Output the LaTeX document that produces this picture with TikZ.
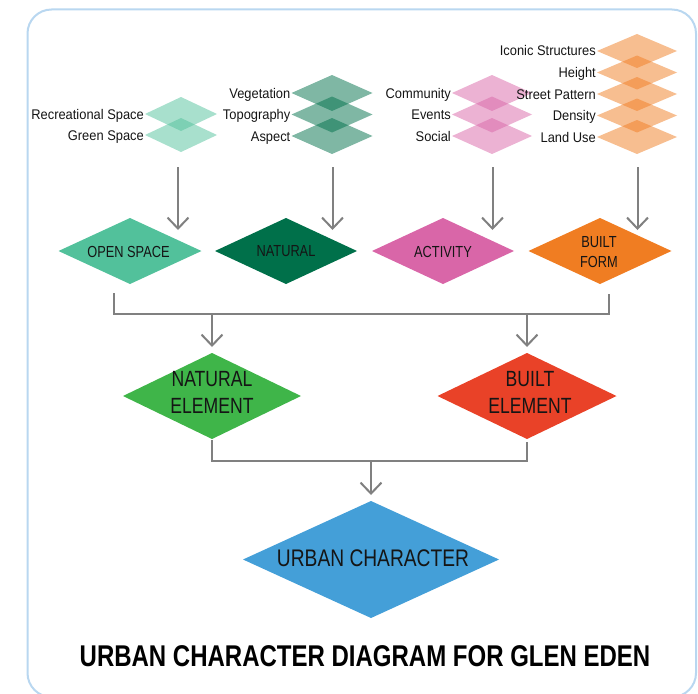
\documentclass[tikz,border=0pt]{standalone}
\usepackage{fontspec}
\setmainfont[FakeStretch=0.8]{Liberation Sans}
\newfontfamily\lblfont[FakeStretch=0.92]{Liberation Sans}
\usetikzlibrary{shapes.geometric,arrows.meta,calc}
\definecolor{osC}{HTML}{52C19B}
\definecolor{naC}{HTML}{00704A}
\definecolor{acC}{HTML}{D966A8}
\definecolor{bfC}{HTML}{F07D22}
\definecolor{neC}{HTML}{3FB549}
\definecolor{beC}{HTML}{E94228}
\definecolor{ucC}{HTML}{449FD8}
\definecolor{frameC}{HTML}{B9D7F0}
\definecolor{connC}{HTML}{808080}
\definecolor{txtC}{HTML}{151515}
\tikzset{
  sdia/.style={diamond, draw=none, inner sep=0pt, outer sep=0pt, fill opacity=0.5, minimum width=80pt, minimum height=36pt},
  bdia/.style={diamond, draw=none, inner sep=0pt, outer sep=0pt},
  lbl/.style={font=\lblfont\fontsize{14}{16}\selectfont, text=txtC, inner sep=0pt, anchor=base east},
  mtxt/.style={font=\fontsize{16}{20}\selectfont, text=txtC, inner sep=0pt, align=center},
  etxt/.style={font=\fontsize{22}{27}\selectfont, text=txtC, inner sep=0pt, align=center},
  conn/.style={draw=connC, line width=2pt},
  arr/.style={draw=connC, line width=2pt, -{Straight Barb[length=11pt,width=21pt]}},
}
\begin{document}
\begin{tikzpicture}[x=1pt,y=-1pt]
\useasboundingbox (0,0) rectangle (698,693);
\begin{scope}
\clip (0,0) rectangle (698,693);
\draw[frameC, line width=2pt, rounded corners=24pt] (27.5,9.5) rectangle (696,697);
\end{scope}

% open space group
\node[sdia, fill=osC, minimum width=72pt, minimum height=34pt] (os1) at (181,114) {};
\node[sdia, fill=osC, minimum width=72pt, minimum height=34pt] (os2) at (181,135) {};
\node[lbl] (t-os1) at ($(os1.west)+(-1,5)$) {Recreational Space};
\node[lbl] (t-os2) at ($(os2.west)+(-1,5)$) {Green Space};

% natural group
\node[sdia, fill=naC, minimum width=81pt] (na1) at (332,93) {};
\node[sdia, fill=naC, minimum width=81pt] (na2) at (332,114.5) {};
\node[sdia, fill=naC, minimum width=81pt] (na3) at (332,136) {};
\node[lbl] (t-na1) at ($(na1.west)+(-1,5)$) {Vegetation};
\node[lbl] (t-na2) at ($(na2.west)+(-1,5)$) {Topography};
\node[lbl] (t-na3) at ($(na3.west)+(-1,5)$) {Aspect};

% activity group
\node[sdia, fill=acC] (ac1) at (492,93) {};
\node[sdia, fill=acC] (ac2) at (492,114.5) {};
\node[sdia, fill=acC] (ac3) at (492,136) {};
\node[lbl] (t-ac1) at ($(ac1.west)+(-1,5)$) {Community};
\node[lbl] (t-ac2) at ($(ac2.west)+(-1,5)$) {Events};
\node[lbl] (t-ac3) at ($(ac3.west)+(-1,5)$) {Social};

% built form group
\node[sdia, fill=bfC, minimum height=34pt] (bf1) at (637,51) {};
\node[sdia, fill=bfC, minimum height=34pt] (bf2) at (637,72.5) {};
\node[sdia, fill=bfC, minimum height=34pt] (bf3) at (637,94) {};
\node[sdia, fill=bfC, minimum height=34pt] (bf4) at (637,115.5) {};
\node[sdia, fill=bfC, minimum height=34pt] (bf5) at (637,137) {};
\node[lbl] (t-bf1) at ($(bf1.west)+(-1,5)$) {Iconic Structures};
\node[lbl] (t-bf2) at ($(bf2.west)+(-1,5)$) {Height};
\node[lbl] (t-bf3) at ($(bf3.west)+(-1,5)$) {Street Pattern};
\node[lbl] (t-bf4) at ($(bf4.west)+(-1,5)$) {Density};
\node[lbl] (t-bf5) at ($(bf5.west)+(-1,5)$) {Land Use};

% main diamonds
\node[bdia, fill=osC, minimum width=143pt, minimum height=66pt] (osm) at (130,251) {};
\node[bdia, fill=naC, minimum width=142pt, minimum height=66pt] (nam) at (286,251) {};
\node[bdia, fill=acC, minimum width=142pt, minimum height=66pt] (acm) at (443,251) {};
\node[bdia, fill=bfC, minimum width=143pt, minimum height=66pt] (bfm) at (600,251) {};
\node[mtxt] (t-osm) at ($(osm)+(-1.5,0.5)$) {OPEN SPACE};
\node[mtxt] (t-nam) at ($(nam)+(0,0.5)$) {NATURAL};
\node[mtxt] (t-acm) at ($(acm)+(0,0.5)$) {ACTIVITY};
\node[mtxt] (t-bfm) at ($(bfm)+(-1,1.5)$) {BUILT\\FORM};

% arrows from groups
\draw[arr] ($(os2.south)+(-3,15)$) -- ($(os2.south |- osm.north)+(-3,12)$);
\draw[arr] ($(na3.south)+(0.5,13)$) -- ($(na3.south |- nam.north)+(0.5,12)$);
\draw[arr] ($(ac3.south)+(0.5,13)$) -- ($(ac3.south |- acm.north)+(0.5,12)$);
\draw[arr] ($(bf5.south)+(0.5,13)$) -- ($(bf5.south |- bfm.north)+(0.5,12)$);

% element diamonds
\node[bdia, fill=neC, minimum width=178pt, minimum height=86pt] (ne) at (212,396) {};
\node[bdia, fill=beC, minimum width=179pt, minimum height=86pt] (be) at (527,396) {};
\node[etxt] (t-ne) at ($(ne)+(0,-3.5)$) {NATURAL\\ELEMENT};
\node[etxt] (t-be) at ($(be)+(3,-3.5)$) {BUILT\\ELEMENT};

% bracket level 2
\draw[conn] ($(osm.south)+(-16,9)$) -- ++(0,21) coordinate (hb1) -| ($(bfm.south)+(9,10)$);
\draw[arr] (hb1 -| ne.north) -- ($(ne.north)+(0,-6)$);
\draw[arr] (hb1 -| be.north) -- ($(be.north)+(0,-6)$);

% urban character
\node[bdia, fill=ucC, minimum width=256pt, minimum height=117pt] (uc) at (371,559.5) {};
\node[font=\fontsize{24}{28}\selectfont, text=txtC, inner sep=0pt] (t-uc) at ($(uc)+(2,-1)$) {URBAN CHARACTER};

% bracket level 3
\draw[conn] ($(ne.south)+(0,1)$) -- ++(0,21) coordinate (hb2) -| ($(be.south)+(0,3)$);
\draw[arr] (hb2 -| uc.north) -- ($(uc.north)+(0,-6)$);

% title
\node[font=\bfseries\fontsize{30}{34}\selectfont, text=black, inner sep=0pt, anchor=base] (title) at (365,666) {URBAN CHARACTER DIAGRAM FOR GLEN EDEN};
\end{tikzpicture}
\end{document}
